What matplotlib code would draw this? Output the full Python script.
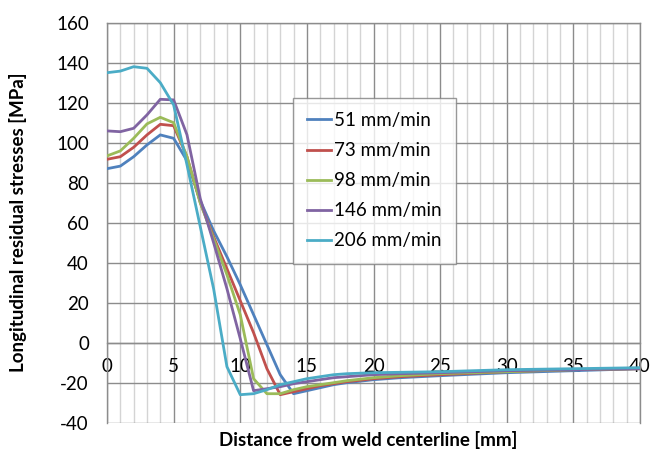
import matplotlib
matplotlib.use("Agg")
import matplotlib.pyplot as plt
from matplotlib.ticker import MultipleLocator

plt.rcParams['font.family'] = ['Lato', 'DejaVu Sans']
plt.rcParams['axes.unicode_minus'] = False

# welding speeds and measured longitudinal residual stress profiles
labels = ["51 mm/min", "73 mm/min", "98 mm/min", "146 mm/min", "206 mm/min"]
colors = ["#4F81BD", "#C0504D", "#9BBB59", "#8064A2", "#4BACC6"]

x_51 = [0, 1, 2, 3, 4, 5, 6, 7, 8, 9, 10, 11, 12, 13, 14, 15, 16, 17, 18, 20, 22, 25, 30, 35, 40]
s_51 = [87, 88.3, 93, 98.9, 103.9, 102.2, 91, 71, 56, 43, 29, 14, -1, -16, -25.5, -24, -22.5, -21, -20,
        -18.5, -17.5, -16.5, -15, -14, -13]

x_73 = [0, 1, 2, 3, 4, 5, 6, 7, 8, 9, 10, 11, 12, 13, 14, 15, 16, 17, 18, 20, 22, 25, 30, 35, 40]
s_73 = [91.7, 93, 97.7, 103.9, 109.2, 108.5, 93, 70, 53, 37, 21, 5, -13, -26, -24.5, -23, -21.5, -20.5,
        -19.5, -18, -17, -16, -14.5, -13.5, -13]

x_98 = [0, 1, 2, 3, 4, 5, 6, 7, 8, 9, 10, 11, 12, 13, 14, 15, 16, 17, 18, 20, 22, 25, 30, 35, 40]
s_98 = [93.4, 95.9, 102.2, 109.4, 112.7, 110, 93, 70, 52, 34, 14, -18, -25.5, -25.5, -23.5, -22, -21,
        -20, -19, -17.5, -16.5, -15.5, -14.5, -13.5, -13]

x_146 = [0, 1, 2, 3, 4, 5, 6, 7, 8, 9, 10, 11, 12, 13, 14, 15, 16, 17, 18, 20, 22, 25, 30, 35, 40]
s_146 = [105.9, 105.5, 107.2, 113.9, 121.7, 121.4, 104, 72, 50, 27, 2, -24, -23, -22, -20.5, -19.5,
         -18.5, -17.5, -17, -16, -15.5, -15, -14, -13.5, -13]

x_206 = [0, 1, 2, 3, 4, 5, 6, 7, 8, 9, 10, 11, 12, 13, 14, 15, 16, 17, 18, 20, 22, 25, 30, 35, 40]
s_206 = [135, 135.8, 138, 137.2, 130, 118.9, 89, 58, 27, -12, -26, -25.5, -23.5, -21, -19.5, -18, -17,
         -16, -15.5, -15, -14.8, -14.5, -13.5, -13, -12.5]

xs = [x_51, x_73, x_98, x_146, x_206]
ss = [s_51, s_73, s_98, s_146, s_206]

fig = plt.figure(figsize=(6.55, 4.51), dpi=100)
ax = fig.add_axes([107 / 655, 1 - 422.7 / 451, 533 / 655, 400 / 451])

for x, s, c, lab in zip(xs, ss, colors, labels):
    ax.plot(x, s, color=c, lw=2.0, label=lab, zorder=3)

ax.set_xlim(0, 40)
ax.set_ylim(-40, 160)
ax.xaxis.set_major_locator(MultipleLocator(5))
ax.xaxis.set_minor_locator(MultipleLocator(1))
ax.yaxis.set_major_locator(MultipleLocator(20))

ax.grid(True, which="major", color="#8c8c8c", lw=1.0, zorder=1)
ax.grid(True, which="minor", axis="x", color="#d4d4d4", lw=1.0, zorder=0)

for side in ["top", "right", "left", "bottom"]:
    ax.spines[side].set_color("#8c8c8c")
    ax.spines[side].set_linewidth(1.0)
ax.spines["bottom"].set_position(("data", 0))

ax.tick_params(axis="both", which="both", length=0, labelsize=13.5)
ax.tick_params(axis="y", pad=13)
ax.tick_params(axis="x", pad=11)

ax.set_xlabel("Distance from weld centerline [mm]", fontsize=13.5, fontweight="bold")
ax.set_ylabel("Longitudinal residual stresses [MPa]", fontsize=13.5, fontweight="bold")
ax.xaxis.set_label_coords(0.49, -0.02)
ax.yaxis.set_label_coords(-0.15, 0.5)

leg = ax.legend(loc="upper left", bbox_to_anchor=(0.349, 0.812), borderaxespad=0,
                fontsize=13.5, frameon=True, fancybox=False, labelspacing=0.7,
                handlelength=1.3, handletextpad=0.15, borderpad=0.75)
leg.get_frame().set_edgecolor("#7f7f7f")
leg.get_frame().set_linewidth(1.0)
leg.set_zorder(5)

fig.savefig("out.png", dpi=100)
